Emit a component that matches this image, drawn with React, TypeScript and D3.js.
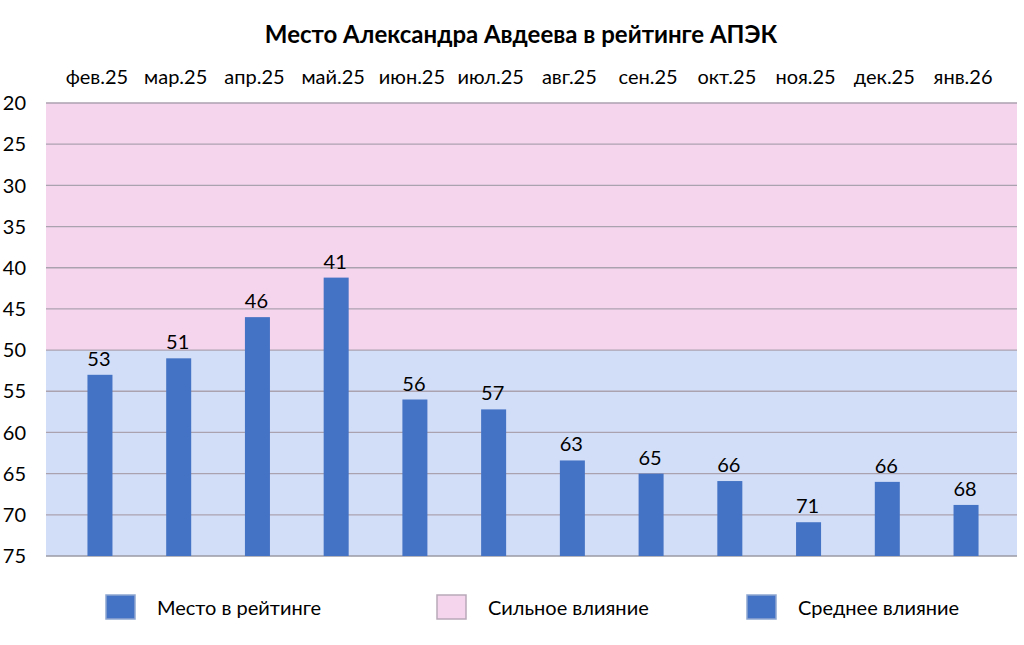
import React from "react";
import * as d3 from "d3";

const months = ["фев.25", "мар.25", "апр.25", "май.25", "июн.25", "июл.25", "авг.25", "сен.25", "окт.25", "ноя.25", "дек.25", "янв.26"];
// data labels as printed on the chart
const rankLabels = [53, 51, 46, 41, 56, 57, 63, 65, 66, 71, 66, 68];
// bar tops
const rankValues = [53, 51, 46, 41.2, 56, 57.2, 63.4, 65, 65.9, 70.9, 66, 68.8];
const yTicks = [20, 25, 30, 35, 40, 45, 50, 55, 60, 65, 70, 75];
const strongZone = [20, 50];
const mediumZone = [50, 75];
const legendItems = ["Место в рейтинге", "Сильное влияние", "Среднее влияние"];

const W = 1024;
const H = 645;
const FONT = "Lato, 'Noto Sans', sans-serif";
const BAR = "#4472C4";
const PINK = "#F5D4EE";
const BLUE = "#D2DEF8";

export default function App() {
  const plotL = 46;
  const plotR = 1017;
  const y = d3.scaleLinear().domain([20, 75]).range([103, 556]);
  const x = d3.scaleBand<string>().domain(months).range([60.6, 1005.4]).padding(0);
  const barW = 25;
  const cx = (m: string) => (x(m) as number) + x.bandwidth() / 2;

  const legendX = [106, 437, 747];
  const legendFill = [BAR, PINK, BAR];
  const legendStroke = ["#8FA6CF", "#B8A9B8", "#8FA6CF"];

  return (
    <svg
      width={W}
      height={H}
      style={{ position: "absolute", left: 0, top: 0, background: "#fff" }}
      fontFamily={FONT}
    >
      <text x={521} y={43} textAnchor="middle" fontSize={24} fontWeight={700} fill="#000">
        Место Александра Авдеева в рейтинге АПЭК
      </text>

      {/* zones */}
      <rect x={plotL} y={y(strongZone[0])} width={plotR - plotL} height={y(strongZone[1]) - y(strongZone[0])} fill={PINK} />
      <rect x={plotL} y={y(mediumZone[0])} width={plotR - plotL} height={y(mediumZone[1]) - y(mediumZone[0])} fill={BLUE} />

      {/* gridlines */}
      {yTicks.map((t) => (
        <line
          key={t}
          x1={plotL}
          x2={plotR}
          y1={y(t)}
          y2={y(t)}
          stroke={t === 75 ? "#9a9aa6" : "#ABA2B0"}
          strokeWidth={t === 75 ? 1.6 : 1.3}
        />
      ))}

      {/* y labels */}
      {yTicks.map((t) => (
        <text key={t} x={26} y={y(t)} dy="0.36em" textAnchor="end" fontSize={20} fill="#000">
          {t}
        </text>
      ))}

      {/* top category labels */}
      {months.map((m) => (
        <text key={m} x={cx(m) - 3} y={84} textAnchor="middle" fontSize={20} fill="#000">
          {m}
        </text>
      ))}

      {/* bars */}
      {months.map((m, i) => (
        <rect
          key={m}
          x={cx(m) - barW / 2}
          y={y(rankValues[i])}
          width={barW}
          height={y(75) - y(rankValues[i])}
          fill={BAR}
        />
      ))}

      {/* data labels */}
      {months.map((m, i) => (
        <text key={m} x={cx(m) - 1} y={y(rankValues[i]) - 9} textAnchor="middle" fontSize={20} fill="#000">
          {rankLabels[i]}
        </text>
      ))}

      {/* legend */}
      {legendItems.map((name, i) => (
        <g key={name}>
          <rect x={legendX[i]} y={595} width={29} height={24} fill={legendFill[i]} stroke={legendStroke[i]} strokeWidth={1.5} />
          <text x={legendX[i] + 51} y={615} fontSize={20} fill="#000">
            {name}
          </text>
        </g>
      ))}
    </svg>
  );
}
